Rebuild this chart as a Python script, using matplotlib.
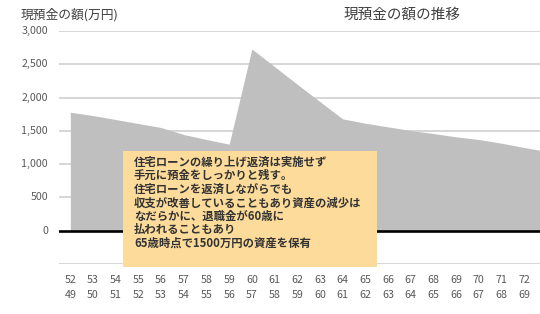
import numpy as np
import matplotlib.pyplot as plt
from matplotlib.patches import Rectangle
from matplotlib.transforms import ScaledTranslation

plt.rcParams['font.family'] = ['Noto Sans CJK JP', 'DejaVu Sans']

# ages (top row: husband, bottom row: wife)
age_top = [52, 53, 54, 55, 56, 57, 58, 59, 60, 61, 62, 63, 64, 65, 66, 67, 68, 69, 70, 71, 72, 73]
age_bottom = [49, 50, 51, 52, 53, 54, 55, 56, 57, 58, 59, 60, 61, 62, 63, 64, 65, 66, 67, 68, 69, 70]
# cash and deposits (10k yen)
savings = [1780, 1730, 1670, 1610, 1550, 1445, 1370, 1300, 2730, 2465, 2200, 1940, 1680,
           1615, 1560, 1505, 1460, 1410, 1370, 1315, 1250, 1190]
y_ticks = [-500, 0, 500, 1000, 1500, 2000, 2500, 3000]

title = '現預金の額の推移'
y_title = '現預金の額(万円)'
note_lines = [
    '住宅ローンの繰り上げ返済は実施せず',
    '手元に預金をしっかりと残す。',
    '住宅ローンを返済しながらでも',
    '収支が改善していることもあり資産の減少は',
    'なだらかに、退職金が60歳に',
    '払われることもあり',
    '65歳時点で1500万円の資産を保有',
]

W, H = 540, 314
fig = plt.figure(figsize=(W / 100, H / 100), dpi=100)
fig.patch.set_facecolor('white')

# plot area in pixels
left, right, top, bottom = 59, 540, 31, 264
ax = fig.add_axes([left / W, 1 - bottom / H, (right - left) / W, (bottom - top) / H])

x = np.arange(len(savings))
ax.fill_between(x, 0, savings, color='#bfbfbf', linewidth=0, zorder=2)

for v in y_ticks:
    if v == 0:
        ax.axhline(v, color='black', linewidth=1.9, zorder=3)
    else:
        ax.axhline(v, color='#d0d0d0', linewidth=1.2, zorder=1)

x_max = 20.7
ax.set_xlim(-0.5, x_max)
ax.set_ylim(-500, 3000)
for s in ax.spines.values():
    s.set_visible(False)
ax.set_xticks([])
ax.set_yticks([])
ax.patch.set_alpha(0)

# y tick labels, negative value hidden
for v in y_ticks:
    if v < 0:
        continue
    ax.text(-0.5 - 11 / 22.6, v, f'{v:,}', ha='right', va='center',
            fontsize=7.7, color='#595959')

# two-row category labels (only those inside the plot width)
row1 = ax.transData + ScaledTranslation(0, -16 / 100, fig.dpi_scale_trans)
row2 = ax.transData + ScaledTranslation(0, -31 / 100, fig.dpi_scale_trans)
for i, (a, b) in enumerate(zip(age_top, age_bottom)):
    if i > x_max - 0.5:
        continue
    ax.text(i, -500, str(a), ha='center', va='center', fontsize=7.7, color='#595959',
            transform=row1, clip_on=False)
    ax.text(i, -500, str(b), ha='center', va='center', fontsize=7.7, color='#595959',
            transform=row2, clip_on=False)

fig.text(402 / W, 1 - 15 / H, title, ha='center', va='center', fontsize=10.5, color='#404040')
fig.text(21 / W, 1 - 15 / H, y_title, ha='left', va='center', fontsize=9.2, color='#404040')

# note box
bx0, bx1, by0, by1 = 123, 377, 151, 267
fig.patches.append(Rectangle((bx0 / W, 1 - by1 / H), (bx1 - bx0) / W, (by1 - by0) / H,
                             transform=fig.transFigure, facecolor='#fddc9b', edgecolor='none',
                             zorder=5))
for k, line in enumerate(note_lines):
    fig.text(134 / W, 1 - (162 + 13.6 * k) / H, line, ha='left', va='center', fontsize=8.2,
             color='#333333', fontweight='bold', zorder=6)

fig.savefig('out.png', dpi=100)
